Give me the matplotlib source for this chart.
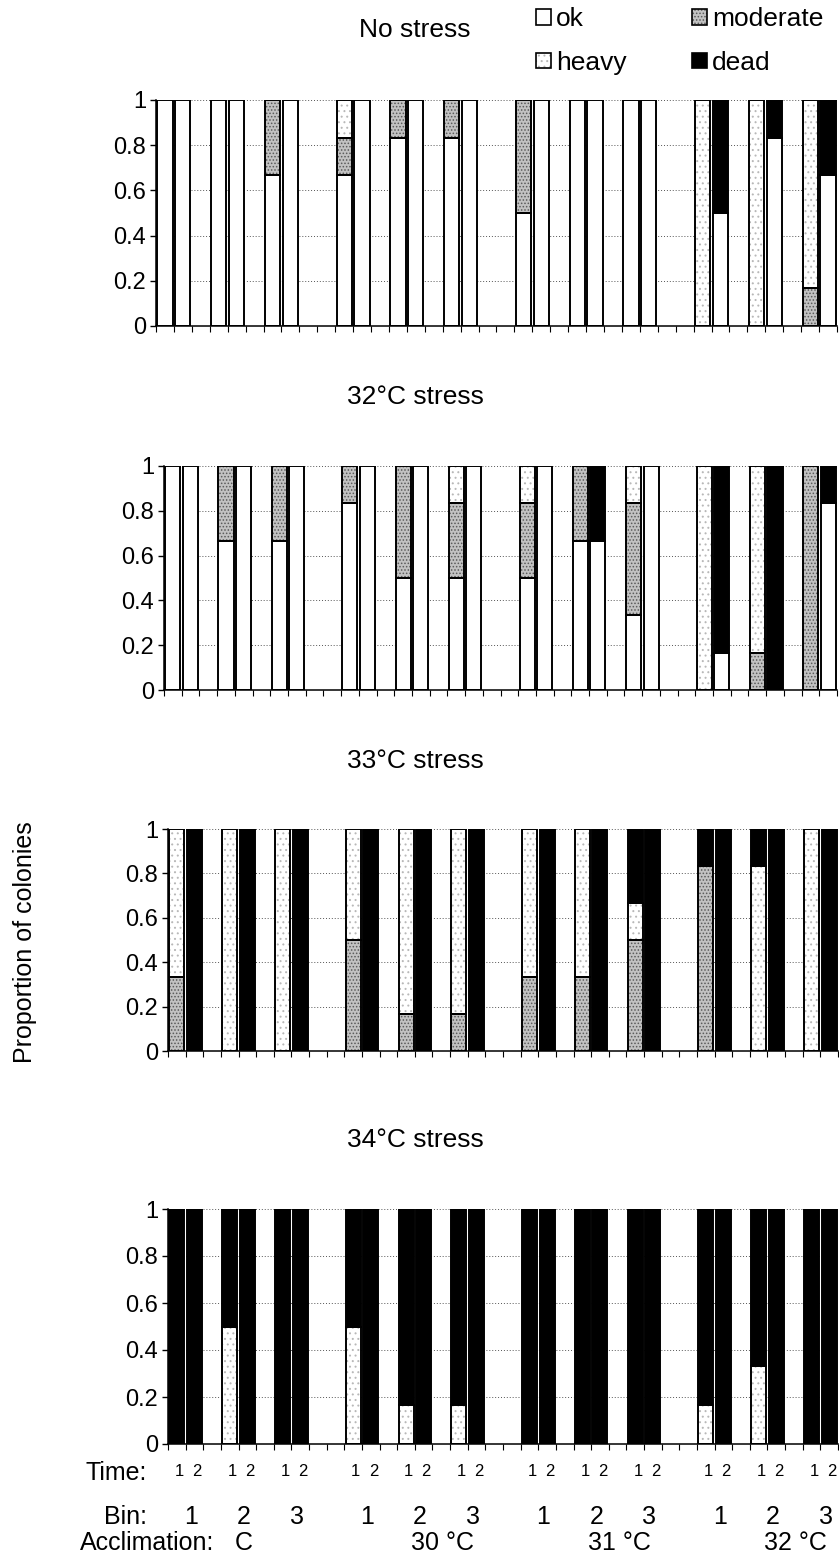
import numpy as np
import matplotlib
matplotlib.use('Agg')
import matplotlib.pyplot as plt
from matplotlib.patches import Patch
from matplotlib.transforms import blended_transform_factory

plt.rcParams['font.family'] = ['Liberation Sans', 'DejaVu Sans']
plt.rcParams['hatch.linewidth'] = 0.7

acclimations = ['C', '30 °C', '31 °C', '32 °C']
bins = ['1', '2', '3']
times = ['1', '2']
stress_titles = ['No stress', '32°C stress', '33°C stress', '34°C stress']

# proportion of colonies, bars ordered acclimation -> bin -> time (24 per panel)
# No stress
ok_0 = [1, 1, 1, 1, 0.667, 1,   0.667, 1, 0.833, 1, 0.833, 1,
        0.5, 1, 1, 1, 1, 1,       0, 0.5, 0, 0.833, 0, 0.667]
mod_0 = [0, 0, 0, 0, 0.333, 0,  0.167, 0, 0.167, 0, 0.167, 0,
         0.5, 0, 0, 0, 0, 0,      0, 0, 0, 0, 0.167, 0]
heavy_0 = [0, 0, 0, 0, 0, 0,    0.167, 0, 0, 0, 0, 0,
           0, 0, 0, 0, 0, 0,      1, 0, 1, 0, 0.833, 0]
dead_0 = [0, 0, 0, 0, 0, 0,     0, 0, 0, 0, 0, 0,
          0, 0, 0, 0, 0, 0,       0, 0.5, 0, 0.167, 0, 0.333]

# 32 C stress
ok_1 = [1, 1, 0.667, 1, 0.667, 1,   0.833, 1, 0.5, 1, 0.5, 1,
        0.5, 1, 0.667, 0.667, 0.333, 1,   0, 0.167, 0, 0, 0, 0.833]
mod_1 = [0, 0, 0.333, 0, 0.333, 0,  0.167, 0, 0.5, 0, 0.333, 0,
         0.333, 0, 0.333, 0, 0.5, 0,      0, 0, 0.167, 0, 1, 0]
heavy_1 = [0, 0, 0, 0, 0, 0,        0, 0, 0, 0, 0.167, 0,
           0.167, 0, 0, 0, 0.167, 0,      1, 0, 0.833, 0, 0, 0]
dead_1 = [0, 0, 0, 0, 0, 0,         0, 0, 0, 0, 0, 0,
          0, 0, 0, 0.333, 0, 0,           0, 0.833, 0, 1, 0, 0.167]

# 33 C stress
ok_2 = [0] * 24
mod_2 = [0.333, 0, 0, 0, 0, 0,      0.5, 0, 0.167, 0, 0.167, 0,
         0.333, 0, 0.333, 0, 0.5, 0,      0.833, 0, 0, 0, 0, 0]
heavy_2 = [0.667, 0, 1, 0, 1, 0,    0.5, 0, 0.833, 0, 0.833, 0,
           0.667, 0, 0.667, 0, 0.167, 0,  0, 0, 0.833, 0, 1, 0]
dead_2 = [0, 1, 0, 1, 0, 1,         0, 1, 0, 1, 0, 1,
          0, 1, 0, 1, 0.333, 1,           0.167, 1, 0.167, 1, 0, 1]

# 34 C stress
ok_3 = [0] * 24
mod_3 = [0] * 24
heavy_3 = [0, 0, 0.5, 0, 0, 0,      0.5, 0, 0.167, 0, 0.167, 0,
           0, 0, 0, 0, 0, 0,              0.167, 0, 0.333, 0, 0, 0]
dead_3 = [1, 1, 0.5, 1, 1, 1,       0.5, 1, 0.833, 1, 0.833, 1,
          1, 1, 1, 1, 1, 1,               0.833, 1, 0.667, 1, 1, 1]

panels = [
    (ok_0, mod_0, heavy_0, dead_0),
    (ok_1, mod_1, heavy_1, dead_1),
    (ok_2, mod_2, heavy_2, dead_2),
    (ok_3, mod_3, heavy_3, dead_3),
]

W, H = 839, 1557
fig = plt.figure(figsize=(W / 100, H / 100), dpi=100)


def px_box(l, r, t, b):
    return [l / W, 1 - b / H, (r - l) / W, (b - t) / H]


def fx(x):
    return x / W


def fy(y):
    return 1 - y / H


# plot areas (pixels: left, right, top, bottom)
boxes = [(156, 837, 100, 326), (164, 837, 466, 690),
         (168, 838, 829, 1051), (168, 838, 1209, 1444)]
title_y = [30, 397, 761, 1140]

# bar slots: each bin gets 2 time bars + 1 gap, each acclimation 1 extra gap
xpos = np.array([a * 10 + b * 3 + t
                 for a in range(len(acclimations))
                 for b in range(len(bins))
                 for t in range(len(times))])
ncat = xpos.max() + 1
bw = 0.85

# segment styles: (face, hatch, hatch colour)
styles = {
    'ok': ('white', None, 'white'),
    'moderate': ('#c2c2c2', '.....', '#5a5a5a'),
    'heavy': ('white', '...', '#b8b8b8'),
    'dead': ('black', None, 'black'),
}
seg_names = ['ok', 'moderate', 'heavy', 'dead']

axes = []
for k, (vals, box) in enumerate(zip(panels, boxes)):
    ax = fig.add_axes(px_box(*box))
    axes.append(ax)
    bottom = np.zeros(len(xpos))
    for name, v in zip(seg_names, vals):
        v = np.array(v, dtype=float)
        m = v > 0
        face, hatch, hc = styles[name]
        ax.bar(xpos[m], v[m], bw, bottom=bottom[m], color=face, hatch=hatch,
               edgecolor=hc, linewidth=0, zorder=2)
        ax.bar(xpos[m], v[m], bw, bottom=bottom[m], fill=False,
               edgecolor='black', linewidth=1.4, zorder=3)
        bottom += v
    ax.set_xlim(-0.5, ncat - 0.5)
    ax.set_ylim(0, 1)
    ax.set_yticks([0, 0.2, 0.4, 0.6, 0.8, 1])
    ax.set_yticklabels(['0', '0.2', '0.4', '0.6', '0.8', '1'])
    ax.set_xticks(np.arange(-0.5, ncat, 1))
    ax.set_xticklabels([])
    ax.tick_params(axis='y', direction='out', length=4, width=1, labelsize=17, pad=3)
    ax.tick_params(axis='x', direction='out', length=4, width=0.8)
    ax.yaxis.grid(True, linestyle=(0, (1, 2)), color='#555555', linewidth=0.7)
    ax.set_axisbelow(True)
    for s in ['top', 'right']:
        ax.spines[s].set_visible(False)
    for s in ['left', 'bottom']:
        ax.spines[s].set_linewidth(1.1)
    fig.text(fx(415), fy(title_y[k]), stress_titles[k], fontsize=19,
             ha='center', va='center')

# legend
handles = []
for name in ['ok', 'heavy', 'moderate', 'dead']:
    face, hatch, hc = styles[name]
    handles.append((Patch(facecolor=face, hatch=hatch, edgecolor=hc, linewidth=0),
                    Patch(fill=False, edgecolor='black', linewidth=1.2)))
fig.legend(handles, ['ok', 'heavy', 'moderate', 'dead'], ncol=2,
           loc='upper left', bbox_to_anchor=(fx(536), fy(7)), frameon=False,
           fontsize=19, handlelength=0.55, handleheight=0.55, handletextpad=0.2,
           columnspacing=2.5, labelspacing=0.75, borderpad=0, borderaxespad=0)

fig.text(fx(25), fy(942), 'Proportion of colonies', rotation=90, fontsize=18,
         ha='center', va='center')

# category labels under the last panel
ax4 = axes[-1]
tr = blended_transform_factory(ax4.transData, fig.transFigure)
for i, x in enumerate(xpos):
    ax4.text(x + 0.15, fy(1471), times[i % 2], transform=tr, fontsize=12,
             ha='center', va='center')
pair_x = xpos.reshape(-1, 2).mean(axis=1)
for j, x in enumerate(pair_x):
    ax4.text(x + 0.3, fy(1517), bins[j % 3], transform=tr, fontsize=18,
             ha='center', va='center')
for a, name in enumerate(acclimations):
    ax4.text(pair_x[a * 3 + 1] - 0.2, fy(1543), name, transform=tr, fontsize=18,
             ha='left', va='center')

fig.text(fx(147), fy(1473), 'Time:', fontsize=18, ha='right', va='center')
fig.text(fx(147), fy(1517), 'Bin:', fontsize=18, ha='right', va='center')
fig.text(fx(80), fy(1543), 'Acclimation:', fontsize=18, ha='left', va='center')

fig.savefig('out.png', dpi=100)
